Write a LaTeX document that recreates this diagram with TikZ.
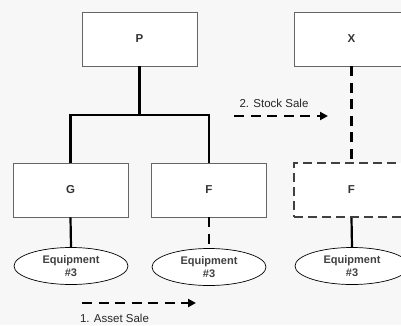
\documentclass[tikz,border=0pt]{standalone}
\usepackage{fontspec}
\setmainfont{Liberation Sans}
\usetikzlibrary{shapes.geometric}
\usetikzlibrary{arrows.meta}
\definecolor{paper}{RGB}{247,247,247}

\begin{document}
\begin{tikzpicture}[
            x=1pt, y=-1pt,
            entity/.style={draw=black!60, line width=.7pt, fill=white, minimum width=115pt, minimum height=54pt,
                font=\fontsize{11.5}{13}\selectfont\bfseries, text=black!80},
            ghost/.style={entity, draw=black!75, line width=1.6pt, dash pattern=on 9pt off 5pt},
            asset/.style={ellipse, draw=black, line width=.7pt, fill=white, minimum width=114pt, minimum height=37pt,
                inner sep=0pt, align=center, font=\fontsize{11}{13}\selectfont\bfseries, text=black!75},
            own/.style={line width=2.2pt, draw=black},
            transfer/.style={line width=2.2pt, draw=black, dash pattern=on 10pt off 6.5pt},
            move/.style={transfer, -{Triangle[length=8pt, width=8pt]}},
            lbl/.style={font=\fontsize{11.5}{13}\selectfont, text=black!85},
        ]
            \fill[paper] (0,0) rectangle (401,325);
            \useasboundingbox (0,0) rectangle (401,325);

            % before: P owns G and F
            \node[entity] (p) at (139.5,39) {P};
            \node[entity] (g) at (70.5,190) {G};
            \node[entity] (f) at (209,190) {F};
            \node[asset] (eqg) at (71,266) {Equipment\\\#3};
            \node[asset] (eqf) at (209,267) {Equipment\\\#3};

            \coordinate (split) at (139.5,115);
            \draw[own] (p.south) -- (split);
            \draw[own] (g.north) -- (g.north |- split) -- (f.north |- split) -- (f.north);
            \draw[own] (g.south) -- (eqg.north);
            \draw[transfer] (f.south) -- (eqf.north);

            % after: X holds F
            \node[entity] (x) at (351.5,39) {X};
            \node[asset] (eqx) at (352,266) {Equipment\\\#3};
            \draw[transfer] (x.south) -- (x.south |- 0,164);
            \node[ghost] (fx) at (351.5,190) {F};
            \draw[own] (fx.south) -- (eqx.north);

            % the two sales
            \coordinate (assetfrom) at (82,303);
            \coordinate (assetto) at (196,303);
            \draw[move] (assetfrom) -- (assetto);
            \node[lbl, anchor=base] (assetlbl) at (114.5,322) {1. Asset Sale};

            \coordinate (stockfrom) at (234,116);
            \coordinate (stockto) at (328,116);
            \draw[move] (stockfrom) -- (stockto);
            \node[lbl] (stocklbl) at (274,103) {2. Stock Sale};
        \end{tikzpicture}
\end{document}
